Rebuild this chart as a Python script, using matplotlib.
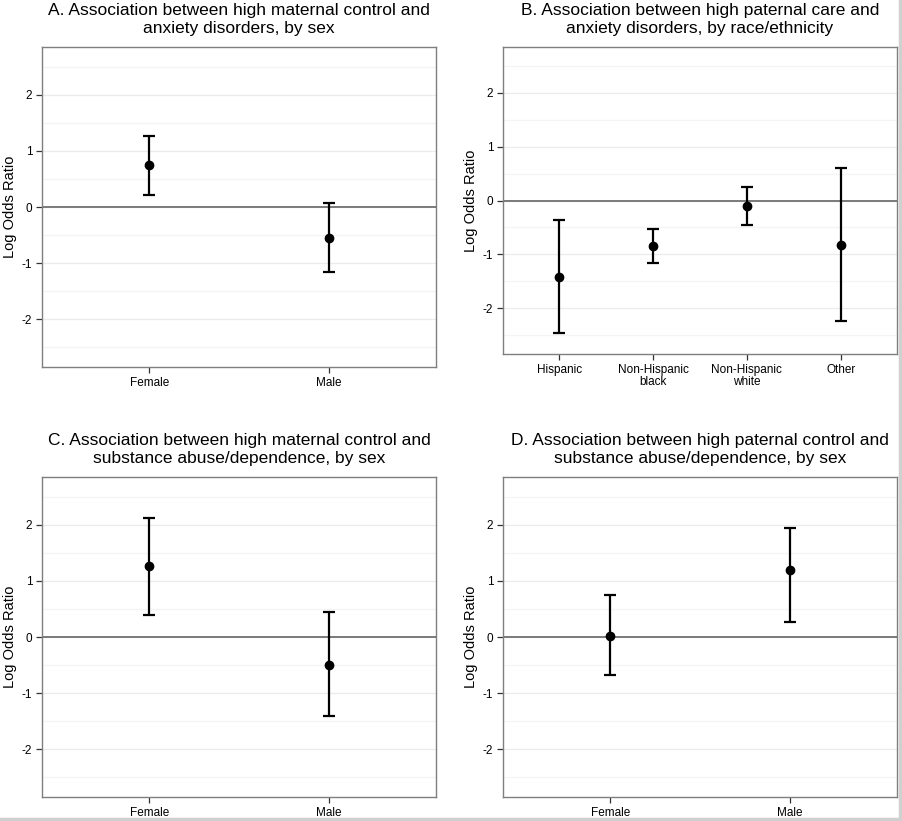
import numpy as np
import matplotlib
matplotlib.use("Agg")
import matplotlib.pyplot as plt
from matplotlib.lines import Line2D
from matplotlib.ticker import FuncFormatter

plt.rcParams['font.family'] = ['Liberation Sans', 'DejaVu Sans']
plt.rcParams['axes.unicode_minus'] = False

# Panel A: maternal control vs anxiety, by sex
sex_labels = ['Female', 'Male']
a_est = [0.74, -0.55]
a_lo = [0.22, -1.15]
a_hi = [1.26, 0.07]

# Panel B: paternal care vs anxiety, by race/ethnicity
race_labels = ['Hispanic', 'Non-Hispanic\nblack', 'Non-Hispanic\nwhite', 'Other']
b_est = [-1.42, -0.85, -0.11, -0.82]
b_lo = [-2.46, -1.16, -0.46, -2.24]
b_hi = [-0.37, -0.52, 0.25, 0.61]

# Panel C: maternal control vs substance abuse, by sex
c_est = [1.26, -0.49]
c_lo = [0.40, -1.41]
c_hi = [2.12, 0.45]

# Panel D: paternal control vs substance abuse, by sex
d_est = [0.02, 1.19]
d_lo = [-0.68, 0.26]
d_hi = [0.74, 1.95]

titles = [
    "A. Association between high maternal control and\nanxiety disorders, by sex",
    "B. Association between high paternal care and\nanxiety disorders, by race/ethnicity",
    "C. Association between high maternal control and\nsubstance abuse/dependence, by sex",
    "D. Association between high paternal control and\nsubstance abuse/dependence, by sex",
]

W, H = 902, 821
fig = plt.figure(figsize=(W / 100, H / 100), dpi=100)

# axes boxes in pixels: left, top, right, bottom
boxes = [
    (42, 47, 436, 367),
    (503, 47, 897, 354),
    (42, 477, 436, 797),
    (503, 477, 897, 797),
]

panels = [
    (sex_labels, a_est, a_lo, a_hi),
    (race_labels, b_est, b_lo, b_hi),
    (sex_labels, c_est, c_lo, c_hi),
    (sex_labels, d_est, d_lo, d_hi),
]

for (l, t, r, b), (labels, est, lo, hi), title in zip(boxes, panels, titles):
    ax = fig.add_axes([l / W, 1 - b / H, (r - l) / W, (b - t) / H])
    x = np.arange(len(labels))
    est = np.array(est)
    lo = np.array(lo)
    hi = np.array(hi)

    ax.set_ylim(-2.85, 2.85)
    ax.set_xlim(-0.6, len(labels) - 1 + 0.6)
    ax.set_yticks([-2, -1, 0, 1, 2])
    ax.yaxis.set_major_formatter(FuncFormatter(lambda v, p: '%d' % round(v)))
    ax.set_yticks(np.arange(-2.5, 3, 1.0), minor=True)
    ax.grid(axis='y', which='major', color='#ebebeb', linewidth=0.9)
    ax.grid(axis='y', which='minor', color='#f4f4f4', linewidth=0.9)
    ax.set_axisbelow(True)
    ax.tick_params(axis='y', which='minor', length=0)

    ax.axhline(0, color='#7a7a7a', linewidth=1.4, zorder=2)
    ax.errorbar(x, est, yerr=[est - lo, hi - est], fmt='o', color='black',
                ms=6, capsize=4.4, elinewidth=1.6, capthick=1.6, zorder=3)

    ax.set_xticks(x)
    ax.set_xticklabels(labels, fontsize=8.5, linespacing=1.0)
    ax.tick_params(axis='both', which='major', length=4, width=0.9, pad=3,
                   color='#333333', labelsize=8.5, labelcolor='black')
    ax.set_ylabel('Log Odds Ratio', fontsize=10.5)
    ax.yaxis.set_label_coords(-0.064, 0.5)
    for s in ax.spines.values():
        s.set_color('#7f7f7f')
        s.set_linewidth(1.0)
    ax.set_title(title, fontsize=12.5, pad=10, linespacing=1.22)

# thin light border at right and bottom edges of the image
fig.add_artist(Line2D([900 / W, 900 / W], [0, 1], color='#d0d0d0', linewidth=2.5))
fig.add_artist(Line2D([0, 1], [1 - 819 / H, 1 - 819 / H], color='#d0d0d0', linewidth=2.5))

fig.savefig('out.png', dpi=100)
